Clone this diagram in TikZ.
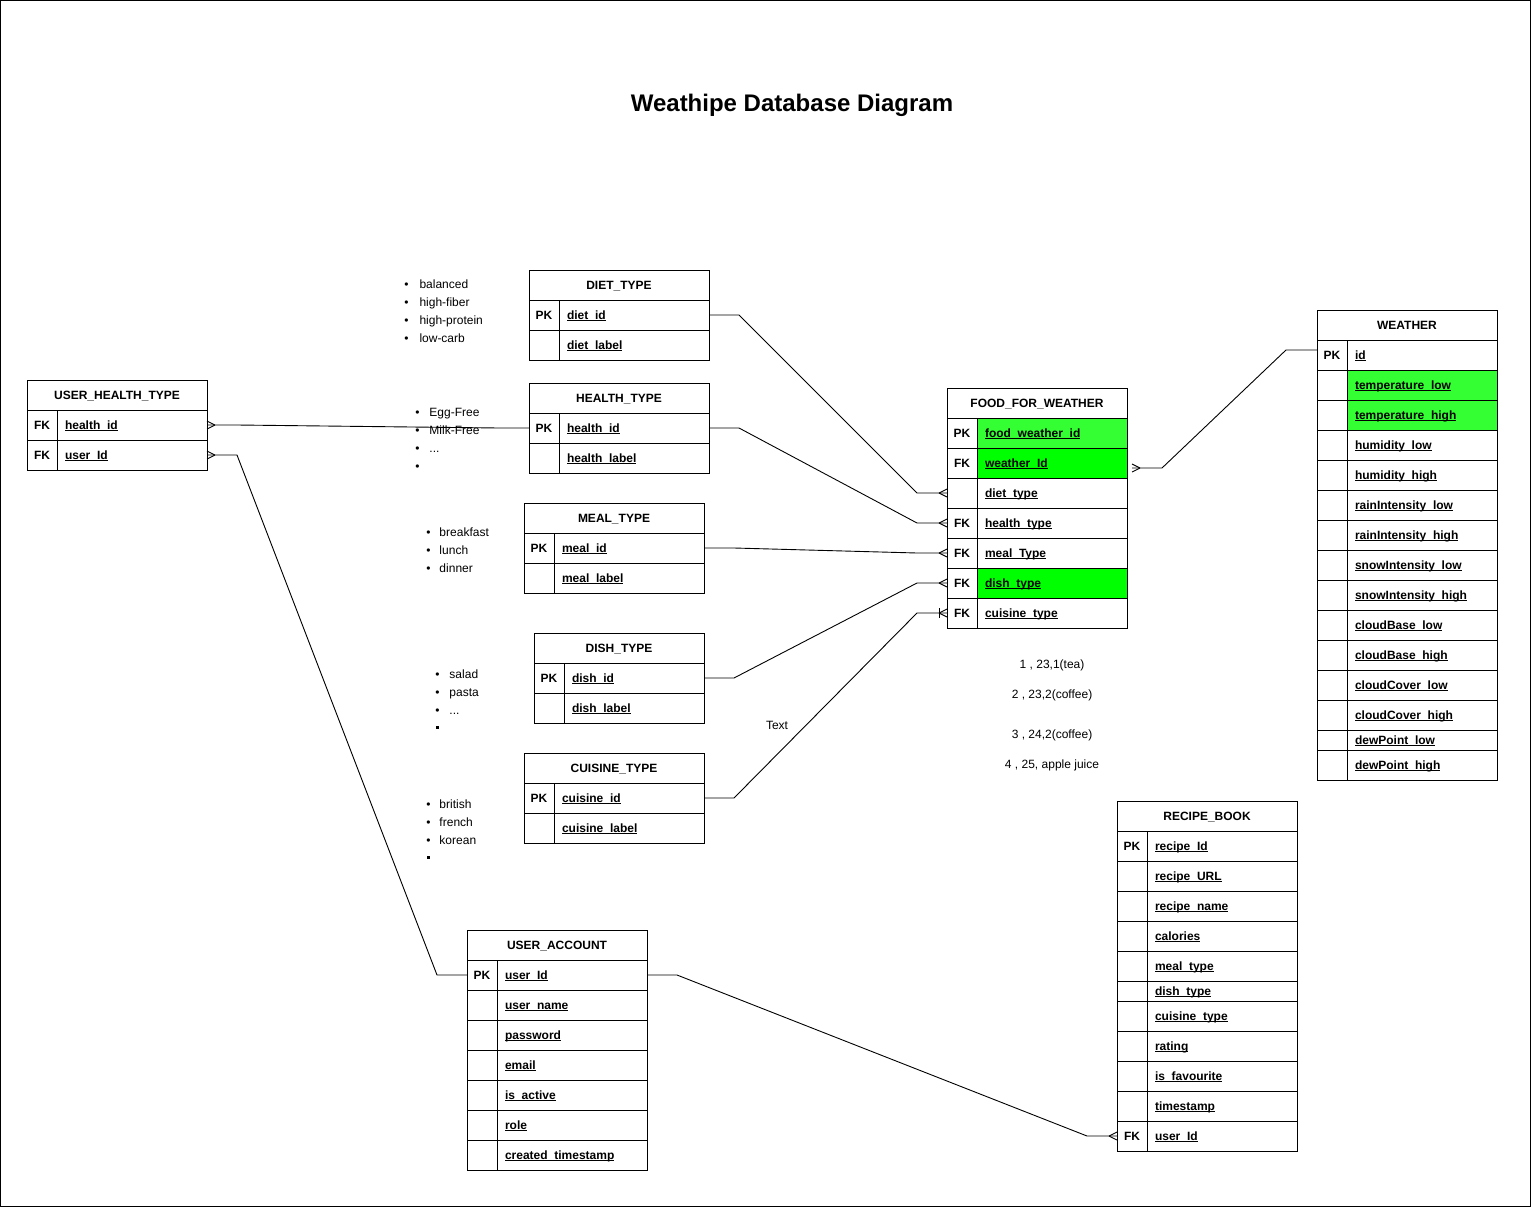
\documentclass[tikz,border=0pt]{standalone}
\usepackage{fontspec}
\setmainfont{Liberation Sans}
\usetikzlibrary{calc}
\definecolor{lgreen}{HTML}{33FF33}
\definecolor{bgreen}{HTML}{00FF00}
\newsavebox\ulbox
\newcommand\ulx[1]{\sbox\ulbox{#1}\rlap{\rule[-1.7pt]{\wd\ulbox}{0.9pt}}\usebox\ulbox}
\tikzset{
  cell/.style={draw, line width=1pt, inner sep=0pt, outer sep=0pt, anchor=north west, text height=8.6pt, text depth=0pt, font=\fontsize{12}{14}\selectfont\bfseries},
  hdr/.style={cell, minimum height=30pt},
  keyc/.style={cell, minimum width=30pt},
  fieldc/.style={cell, align=left, inner xsep=8pt},
  conn/.style={line width=0.9pt},
  note/.style={inner sep=0pt},
}
% name, x, y, width, title
\newcommand\erhdr[5]{\node[hdr, minimum width=#4] (#1) at (#2,#3) {#5};}
% name, x, ytop, textwidth, height, key, field, fill
\newcommand\errow[8]{%
  \node[keyc, minimum height=#5] (#1k) at (#2,#3) {#6};
  \node[fieldc, minimum height=#5, text width=#4, fill=#8] (#1) at (#2+30,#3) {\ulx{#7}};}
\newcommand\manyL[1]{\draw[conn] ($(#1)+(-8,0)$) -- ($(#1)+(0,-4)$) ($(#1)+(-8,0)$) -- ($(#1)+(0,4)$);}
\newcommand\manyR[1]{\draw[conn] ($(#1)+(8,0)$) -- ($(#1)+(0,-4)$) ($(#1)+(8,0)$) -- ($(#1)+(0,4)$);}
% name, bullet centre x, y centre, text x, text
\newcommand\bitem[5]{\node[note, anchor=base west] (#1) at (#2-2.1,#3+4.3) {\makebox[\dimexpr#4pt-#2pt+2.1pt\relax][l]{\textbullet}#5};}
\begin{document}
\begin{tikzpicture}[x=1pt, y=-1pt, font=\fontsize{12}{14}\selectfont, line width=1pt]
\useasboundingbox (0,0) rectangle (1531,1207);
\draw (0.5,0.5) rectangle (1530.5,1206.5);

\node[font=\bfseries\fontsize{24}{28}\selectfont] (title) at (792,105) {Weathipe Database Diagram};

% DIET_TYPE
\erhdr{dt}{529}{270}{180}{DIET\_TYPE}
\errow{dt-id}{529}{300}{134}{30}{PK}{diet\_id}{white}
\errow{dt-label}{529}{330}{134}{30}{}{diet\_label}{white}
% HEALTH_TYPE
\erhdr{ht}{529}{383}{180}{HEALTH\_TYPE}
\errow{ht-id}{529}{413}{134}{30}{PK}{health\_id}{white}
\errow{ht-label}{529}{443}{134}{30}{}{health\_label}{white}
% MEAL_TYPE
\erhdr{mt}{524}{503}{180}{MEAL\_TYPE}
\errow{mt-id}{524}{533}{134}{30}{PK}{meal\_id}{white}
\errow{mt-label}{524}{563}{134}{30}{}{meal\_label}{white}
% DISH_TYPE
\erhdr{st}{534}{633}{170}{DISH\_TYPE}
\errow{st-id}{534}{663}{124}{30}{PK}{dish\_id}{white}
\errow{st-label}{534}{693}{124}{30}{}{dish\_label}{white}
% CUISINE_TYPE
\erhdr{ct}{524}{753}{180}{CUISINE\_TYPE}
\errow{ct-id}{524}{783}{134}{30}{PK}{cuisine\_id}{white}
\errow{ct-label}{524}{813}{134}{30}{}{cuisine\_label}{white}
% USER_HEALTH_TYPE
\erhdr{uh}{27}{380}{180}{USER\_HEALTH\_TYPE}
\errow{uh-health}{27}{410}{134}{30}{FK}{health\_id}{white}
\errow{uh-user}{27}{440}{134}{30}{FK}{user\_Id}{white}
% FOOD_FOR_WEATHER
\erhdr{ff}{947}{388}{180}{FOOD\_FOR\_WEATHER}
\errow{ff-id}{947}{418}{134}{30}{PK}{food\_weather\_id}{lgreen}
\errow{ff-weather}{947}{448}{134}{30}{FK}{weather\_Id}{bgreen}
\errow{ff-diet}{947}{478}{134}{30}{}{diet\_type}{white}
\errow{ff-health}{947}{508}{134}{30}{FK}{health\_type}{white}
\errow{ff-meal}{947}{538}{134}{30}{FK}{meal\_Type}{white}
\errow{ff-dish}{947}{568}{134}{30}{FK}{dish\_type}{bgreen}
\errow{ff-cuisine}{947}{598}{134}{30}{FK}{cuisine\_type}{white}
% WEATHER
\erhdr{w}{1317}{310}{180}{WEATHER}
\errow{w-id}{1317}{340}{134}{30}{PK}{id}{white}
\errow{w-tl}{1317}{370}{134}{30}{}{temperature\_low}{lgreen}
\errow{w-th}{1317}{400}{134}{30}{}{temperature\_high}{lgreen}
\errow{w-hl}{1317}{430}{134}{30}{}{humidity\_low}{white}
\errow{w-hh}{1317}{460}{134}{30}{}{humidity\_high}{white}
\errow{w-rl}{1317}{490}{134}{30}{}{rainIntensity\_low}{white}
\errow{w-rh}{1317}{520}{134}{30}{}{rainIntensity\_high}{white}
\errow{w-sl}{1317}{550}{134}{30}{}{snowIntensity\_low}{white}
\errow{w-sh}{1317}{580}{134}{30}{}{snowIntensity\_high}{white}
\errow{w-bl}{1317}{610}{134}{30}{}{cloudBase\_low}{white}
\errow{w-bh}{1317}{640}{134}{30}{}{cloudBase\_high}{white}
\errow{w-cl}{1317}{670}{134}{30}{}{cloudCover\_low}{white}
\errow{w-ch}{1317}{700}{134}{30}{}{cloudCover\_high}{white}
\errow{w-dl}{1317}{730}{134}{20}{}{dewPoint\_low}{white}
\errow{w-dh}{1317}{750}{134}{30}{}{dewPoint\_high}{white}
% RECIPE_BOOK
\erhdr{rb}{1117}{801}{180}{RECIPE\_BOOK}
\errow{rb-id}{1117}{831}{134}{30}{PK}{recipe\_Id}{white}
\errow{rb-url}{1117}{861}{134}{30}{}{recipe\_URL}{white}
\errow{rb-name}{1117}{891}{134}{30}{}{recipe\_name}{white}
\errow{rb-cal}{1117}{921}{134}{30}{}{calories}{white}
\errow{rb-meal}{1117}{951}{134}{30}{}{meal\_type}{white}
\errow{rb-dish}{1117}{981}{134}{20}{}{dish\_type}{white}
\errow{rb-cuis}{1117}{1001}{134}{30}{}{cuisine\_type}{white}
\errow{rb-rate}{1117}{1031}{134}{30}{}{rating}{white}
\errow{rb-fav}{1117}{1061}{134}{30}{}{is\_favourite}{white}
\errow{rb-ts}{1117}{1091}{134}{30}{}{timestamp}{white}
\errow{rb-user}{1117}{1121}{134}{30}{FK}{user\_Id}{white}
% USER_ACCOUNT
\erhdr{ua}{467}{930}{180}{USER\_ACCOUNT}
\errow{ua-id}{467}{960}{134}{30}{PK}{user\_Id}{white}
\errow{ua-name}{467}{990}{134}{30}{}{user\_name}{white}
\errow{ua-pw}{467}{1020}{134}{30}{}{password}{white}
\errow{ua-mail}{467}{1050}{134}{30}{}{email}{white}
\errow{ua-act}{467}{1080}{134}{30}{}{is\_active}{white}
\errow{ua-role}{467}{1110}{134}{30}{}{role}{white}
\errow{ua-ts}{467}{1140}{134}{30}{}{created\_timestamp}{white}

% connectors
\draw[conn] (dt-id.east) -- ++(30,0) -- ($(ff-dietk.west)+(-30,0)$) -- (ff-dietk.west);
\manyL{ff-dietk.west}
\draw[conn] (ht-id.east) -- ++(30,0) -- ($(ff-healthk.west)+(-30,0)$) -- (ff-healthk.west);
\manyL{ff-healthk.west}
\draw[conn] (mt-id.east) -- ++(30,0) -- ($(ff-mealk.west)+(-30,0)$) -- (ff-mealk.west);
\manyL{ff-mealk.west}
\draw[conn] (st-id.east) -- ++(30,0) -- ($(ff-dishk.west)+(-30,0)$) -- (ff-dishk.west);
\manyL{ff-dishk.west}
\draw[conn] (ct-id.east) -- ++(30,0) -- ($(ff-cuisinek.west)+(-30,0)$) -- (ff-cuisinek.west);
\manyL{ff-cuisinek.west}
\draw[conn] ($(ff-cuisinek.west)+(-8,-5)$) -- ++(0,10);
\coordinate (wstart) at ($(ff-weather.east)+(5,5)$);
\draw[conn] (wstart) -- ++(30,0) -- ($(w-idk.west)+(-31,-5)$) -- ($(w-idk.west)+(0,-5)$);
\manyR{wstart}
\draw[conn] (uh-health.east) -- ++(30,0) -- ($(ht-idk.west)+(-30,0)$) -- (ht-idk.west);
\manyR{uh-health.east}
\draw[conn] (uh-user.east) -- ++(30,0) -- ($(ua-idk.west)+(-30,0)$) -- (ua-idk.west);
\manyR{uh-user.east}
\draw[conn] (ua-id.east) -- ++(30,0) -- ($(rb-userk.west)+(-30,0)$) -- (rb-userk.west);
\manyL{rb-userk.west}

% bullet lists
\bitem{l1a}{406}{284}{419}{balanced}
\bitem{l1b}{406}{302}{419}{high-fiber}
\bitem{l1c}{406}{320}{419}{high-protein}
\bitem{l1d}{406}{338}{419}{low-carb}
\bitem{l2a}{417}{412}{429}{Egg-Free}
\bitem{l2b}{417}{430}{429}{Milk-Free}
\bitem{l2c}{417}{448}{429}{...}
\bitem{l2d}{417}{466}{429}{}
\bitem{l3a}{428}{532}{439}{breakfast}
\bitem{l3b}{428}{550}{439}{lunch}
\bitem{l3c}{428}{568}{439}{dinner}
\bitem{l4a}{437}{674}{449}{salad}
\bitem{l4b}{437}{692}{449}{pasta}
\bitem{l4c}{437}{710}{449}{...}
\node[fill, minimum width=3.5pt, minimum height=2.5pt, inner sep=0pt] (l4d) at (437.5,727.5) {};
\bitem{l5a}{428}{804}{439}{british}
\bitem{l5b}{428}{822}{439}{french}
\bitem{l5c}{428}{840}{439}{korean}
\node[fill, minimum width=3.5pt, minimum height=2.5pt, inner sep=0pt] (l5d) at (428.5,857.5) {};

\node[note] (txt) at (777,725) {Text};
\node[note] (n1) at (1052,665) {1 , 23,1(tea)};
\node[note] (n2) at (1052,695) {2 , 23,2(coffee)};
\node[note] (n3) at (1052,735) {3 , 24,2(coffee)};
\node[note] (n4) at (1052,765) {4 , 25, apple juice};
\end{tikzpicture}
\end{document}
